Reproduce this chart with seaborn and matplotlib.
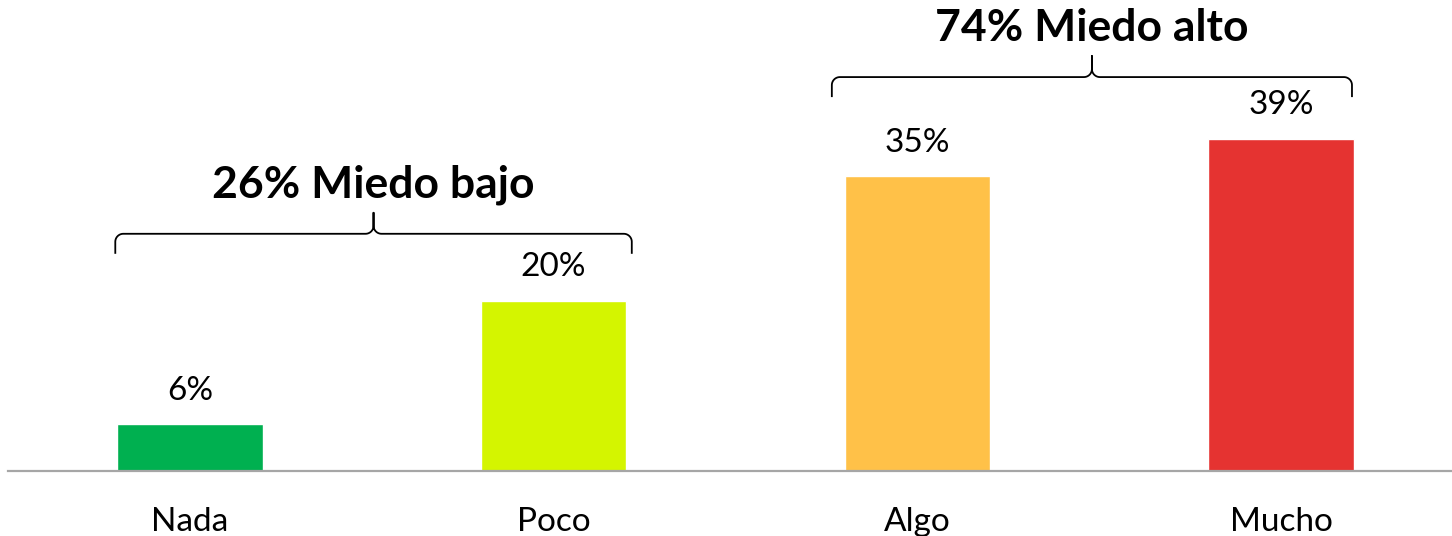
import matplotlib
matplotlib.use("Agg")
import matplotlib.pyplot as plt
import numpy as np
import pandas as pd
import seaborn as sns

# datos
categorias = ["Nada", "Poco", "Algo", "Mucho"]
valores = [5.5, 20.0, 34.6, 39.0]
etiquetas = ["6%", "20%", "35%", "39%"]
colores = ["#00B050", "#D4F500", "#FFC148", "#E53331"]

grupos = ["26% Miedo bajo", "74% Miedo alto"]
grupo_idx = [[0, 1], [2, 3]]
grupo_sep = [5.5, 4.9]

df = pd.DataFrame({"cat": categorias, "val": valores})

sns.set_style("white")
plt.rcParams["font.family"] = ["Lato", "DejaVu Sans"]
plt.rcParams["text.color"] = "black"
plt.rcParams["xtick.color"] = "black"

fig = plt.figure(figsize=(14.52, 5.36), dpi=100)
ax = fig.add_axes([0.0055, 0.1213, 0.9945, 0.8787])

sns.barplot(data=df, x="cat", y="val", hue="cat", palette=colores,
            width=0.4, legend=False, ax=ax, saturation=1)

ax.set_xlim(-0.5, 3.47)
ax.set_ylim(0, 55.3)

for s in ["top", "right", "left"]:
    ax.spines[s].set_visible(False)
ax.spines["bottom"].set_color("#A6A6A6")
ax.spines["bottom"].set_linewidth(1.6)
ax.set_yticks([])
ax.set_xlabel("")
ax.set_ylabel("")
ax.tick_params(axis="x", length=0, pad=26, labelsize=24, labelcolor="black")

# etiquetas de valor
for i, (v, t) in enumerate(zip(valores, etiquetas)):
    ax.annotate(t, (i, v), xytext=(0, 24), textcoords="offset points",
                ha="center", va="center", fontsize=24, color="black")

# llaves
px_x = 363.3  # px por unidad x
px_y = 8.51   # px por unidad y


def llave(x0, x1, yb):
    h = 20 / px_y      # altura de los extremos
    r = 8              # radio de curva en px
    tip = 21 / px_y
    xm = (x0 + x1) / 2
    yh = yb + h
    t = np.linspace(0, np.pi / 2, 15)
    rx, ry = r / px_x, r / px_y
    xs = [x0]
    ys = [yb]
    xs += list(x0 + rx - rx * np.cos(t))
    ys += list(yh - ry + ry * np.sin(t))
    xs += list(xm - rx + rx * np.sin(t))
    ys += list(yh + ry - ry * np.cos(t))
    xs += [xm]
    ys += [yh + tip]
    xs += list(xm + rx - rx * np.sin(t[::-1]))
    ys += list(yh + ry - ry * np.cos(t[::-1]))
    xs += list(x1 - rx + rx * np.cos(t[::-1]))
    ys += list(yh - ry + ry * np.sin(t[::-1]))
    xs += [x1]
    ys += [yb]
    ax.plot(xs, ys, color="black", lw=1.3, solid_capstyle="butt")
    return xm, yh + tip


margenes = [(-0.205, 0.215), (-0.235, 0.195)]
for g, idx, sep, (ml, mr) in zip(grupos, grupo_idx, grupo_sep, margenes):
    x0 = idx[0] + ml
    x1 = idx[-1] + mr
    yb = max(valores[i] for i in idx) + sep
    xm, ytop = llave(x0, x1, yb)
    ax.annotate(g, (xm, ytop), xytext=(0, 20), textcoords="offset points",
                ha="center", va="center", fontsize=32, fontweight="bold",
                color="black")

fig.savefig("out.png", dpi=100)
